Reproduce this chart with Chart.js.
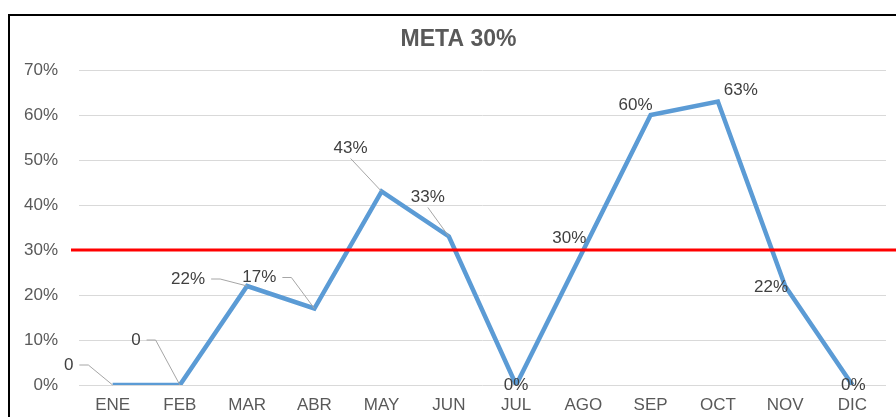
<!DOCTYPE html>
<html>
<head>
<meta charset="utf-8">
<script src="https://cdn.jsdelivr.net/npm/chart.js@4"></script>
<style>
  html, body { margin: 0; padding: 0; background: #fff; }
  #wrap { position: relative; width: 896px; height: 417px; }
</style>
</head>
<body>
<div id="wrap"><canvas id="c" width="896" height="417"></canvas></div>
<script>
// ---- data ----
const months = ['ENE','FEB','MAR','ABR','MAY','JUN','JUL','AGO','SEP','OCT','NOV','DIC'];
const values = [0, 0, 22, 17, 43, 33, 0, 30, 60, 63, 22, 0];
const pointLabels = ['0','0','22%','17%','43%','33%','0%','30%','60%','63%','22%','0%'];
const metaValue = 30;
const yTicks = [0, 10, 20, 30, 40, 50, 60, 70];
const chartTitle = 'META 30%';

// ---- label placement (style config, pixel offsets from each point) ----
const labelPlacement = [
  {dx:-44, dy:-20, leader:'side'},
  {dx:-44, dy:-45, leader:'side'},
  {dx:-59, dy:-7,  leader:'side'},
  {dx:-55, dy:-31, leader:'side'},
  {dx:-31, dy:-43, leader:'below'},
  {dx:-21, dy:-39, leader:'below'},
  {dx:0,   dy:0,   leader:null},
  {dx:-14, dy:-12, leader:null},
  {dx:-15, dy:-10, leader:null},
  {dx:23,  dy:-11, leader:null},
  {dx:-14, dy:1,   leader:null},
  {dx:1,   dy:0,   leader:null}
];

const FONT = '"Liberation Sans", Arial, sans-serif';

const framePlugin = {
  id: 'frame',
  beforeDraw(chart) {
    const ctx = chart.ctx;
    ctx.save();
    ctx.fillStyle = '#fff';
    ctx.fillRect(0, 0, chart.width, chart.height);
    ctx.strokeStyle = '#000';
    ctx.lineWidth = 2;
    ctx.beginPath();
    ctx.moveTo(9, chart.height + 5);
    ctx.lineTo(9, 15);
    ctx.lineTo(chart.width + 5, 15);
    ctx.stroke();
    // title, centred over the chart frame
    ctx.fillStyle = '#595959';
    ctx.font = 'bold 23px ' + FONT;
    ctx.textAlign = 'center';
    ctx.textBaseline = 'middle';
    ctx.fillText(chartTitle, 458.5, 40);
    ctx.restore();
  }
};

const metaPlugin = {
  id: 'metaLine',
  afterDatasetsDraw(chart) {
    const ctx = chart.ctx;
    const y = chart.scales.y.getPixelForValue(metaValue);
    ctx.save();
    ctx.strokeStyle = '#FF0000';
    ctx.lineWidth = 3;
    ctx.beginPath();
    ctx.moveTo(71, y);
    ctx.lineTo(chart.width, y);
    ctx.stroke();
    ctx.restore();
  }
};

const labelPlugin = {
  id: 'pointLabels',
  afterDraw(chart) {
    const ctx = chart.ctx;
    const meta = chart.getDatasetMeta(0);
    ctx.save();
    ctx.font = '17px ' + FONT;
    ctx.textAlign = 'center';
    ctx.textBaseline = 'middle';
    meta.data.forEach((pt, i) => {
      const p = labelPlacement[i];
      const text = pointLabels[i];
      const tx = pt.x + p.dx, ty = pt.y + p.dy;
      const w = ctx.measureText(text).width;
      if (p.leader) {
        ctx.strokeStyle = '#A6A6A6';
        ctx.lineWidth = 1;
        ctx.beginPath();
        if (p.leader === 'side') {
          const sx = tx + w / 2 + 6;
          ctx.moveTo(sx, ty);
          ctx.lineTo(sx + 9, ty);
          ctx.lineTo(pt.x, pt.y);
        } else {
          ctx.moveTo(tx, ty + 10);
          ctx.lineTo(pt.x, pt.y);
        }
        ctx.stroke();
      }
      ctx.fillStyle = '#404040';
      ctx.fillText(text, tx, ty);
    });
    ctx.restore();
  }
};

new Chart(document.getElementById('c'), {
  type: 'line',
  data: {
    labels: months,
    datasets: [{
      data: values,
      borderColor: '#5B9BD5',
      borderWidth: 4.5,
      pointRadius: 0,
      tension: 0,
      fill: false
    }]
  },
  options: {
    responsive: false,
    animation: false,
    devicePixelRatio: 1,
    layout: { padding: { left: 0, right: 10, top: 70, bottom: 0 } },
    plugins: {
      legend: { display: false },
      tooltip: { enabled: false },
      title: { display: false }
    },
    scales: {
      x: {
        offset: true,
        grid: { display: false, drawTicks: false },
        border: { display: false },
        ticks: { color: '#595959', font: { family: FONT, size: 17 }, padding: 10, maxRotation: 0, autoSkip: false },
        afterFit(scale) { scale.height = 32; }
      },
      y: {
        min: 0, max: 70,
        afterBuildTicks(scale) { scale.ticks = yTicks.map(v => ({ value: v })); },
        grid: { color: '#D9D9D9', lineWidth: 1, drawTicks: false },
        border: { display: false },
        ticks: { color: '#595959', font: { family: FONT, size: 17 }, padding: 21, callback: v => v + '%' },
        afterFit(scale) { scale.width = 79; }
      }
    }
  },
  plugins: [framePlugin, metaPlugin, labelPlugin]
});
</script>
</body>
</html>
